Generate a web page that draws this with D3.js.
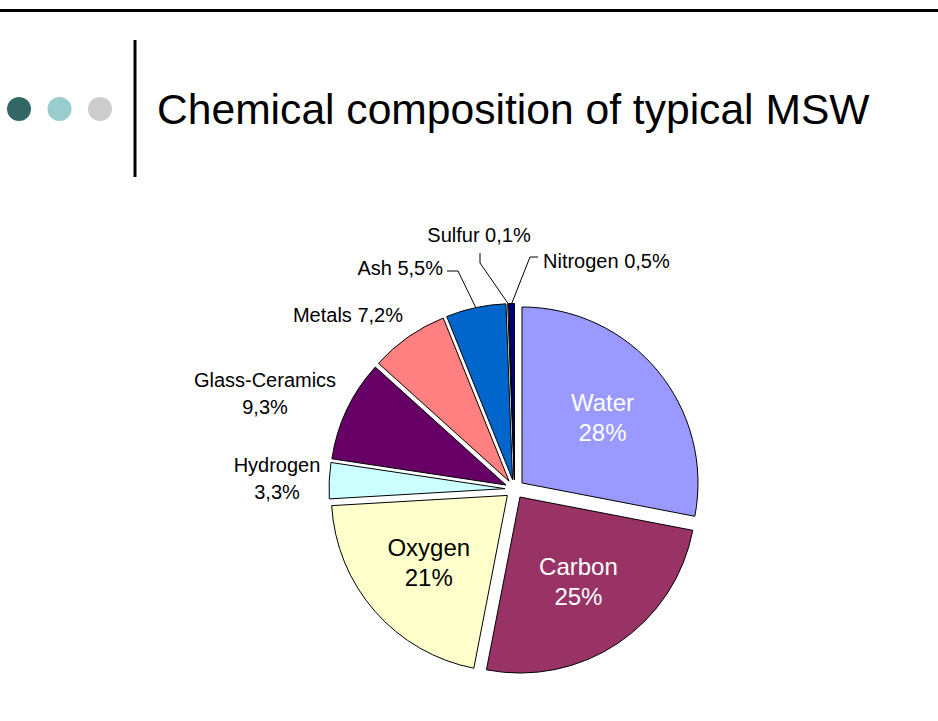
<!DOCTYPE html>
<html>
<head>
<meta charset="utf-8">
<script src="https://cdn.jsdelivr.net/npm/d3@7"></script>
<style>
  body { margin: 0; background: #fff; }
  svg { display: block; font-family: Arial, "Liberation Sans", sans-serif; }
</style>
</head>
<body>
<svg id="chart" width="938" height="721"></svg>
<script>
// chart data
const names = ["Water", "Carbon", "Oxygen", "Hydrogen", "Glass-Ceramics", "Metals", "Ash", "Sulfur", "Nitrogen"];
const values = [28, 25, 21, 3.3, 9.3, 7.2, 5.5, 0.1, 0.5];
const colors = ["#9999FF", "#993366", "#FFFFCC", "#CCFFFF", "#660066", "#FF8080", "#0066CC", "#CCCCFF", "#000080"];
const bullets = ["#336666", "#99CCCC", "#CCCCCC"];
const title = "Chemical composition of typical MSW";

// label layout (inside labels follow the slice centroid)
const insideColor = { "Water": "#fff", "Carbon": "#fff", "Oxygen": "#000" };
const outsideLabels = {
  "Hydrogen":       { x: 277, y: 472, anchor: "middle", wrap: true },
  "Glass-Ceramics": { x: 265, y: 387, anchor: "middle", wrap: true },
  "Metals":         { x: 403, y: 322, anchor: "end" },
  "Ash":            { x: 443, y: 275, anchor: "end", leader: [[447, 271], [458, 271]] },
  "Sulfur":         { x: 479, y: 242, anchor: "middle", leader: [[480, 253], [480, 263]] },
  "Nitrogen":       { x: 543, y: 268, anchor: "start", leader: [[538, 257], [530, 257]] }
};

const svg = d3.select("#chart");
const fmt = v => String(v).replace(".", ",") + "%";

// slide decoration
svg.append("line")
  .attr("x1", 0).attr("x2", 938).attr("y1", 10.5).attr("y2", 10.5)
  .attr("stroke", "#000").attr("stroke-width", 3);
svg.append("line")
  .attr("x1", 135).attr("x2", 135).attr("y1", 40).attr("y2", 177)
  .attr("stroke", "#000").attr("stroke-width", 3);
svg.selectAll("circle.bullet")
  .data(bullets)
  .enter()
  .append("circle")
  .attr("class", "bullet")
  .attr("cx", (d, i) => 19 + i * 40.5)
  .attr("cy", 109)
  .attr("r", 12)
  .attr("fill", d => d);
svg.append("text")
  .attr("x", 157).attr("y", 124)
  .attr("font-size", 42.6)
  .attr("fill", "#000")
  .text(title);

// pie
const cx = 514.6, cy = 489.1, radius = 176, explode = 9.6;
const data = names.map((n, i) => ({ name: n, value: values[i], color: colors[i] }));
const pie = d3.pie().sort(null).value(d => d.value);
const arcs = pie(data);
const arc = d3.arc().innerRadius(0).outerRadius(radius);

const mid = d => (d.startAngle + d.endAngle) / 2;
const dir = a => [Math.sin(a), -Math.cos(a)];

const g = svg.append("g").attr("transform", `translate(${cx},${cy})`);

g.selectAll("path")
  .data(arcs)
  .enter()
  .append("path")
  .attr("transform", d => {
    const [dx, dy] = dir(mid(d));
    return `translate(${dx * explode},${dy * explode})`;
  })
  .attr("d", arc)
  .attr("fill", d => d.data.color)
  .attr("stroke", "#000")
  .attr("stroke-width", 1)
  .attr("stroke-linejoin", "round");

// inside labels
arcs.filter(d => insideColor[d.data.name]).forEach(d => {
  const [dx, dy] = dir(mid(d));
  const px = dx * 114, py = dy * 112;
  const t = g.append("text")
    .attr("text-anchor", "middle")
    .attr("font-size", 24)
    .attr("fill", insideColor[d.data.name]);
  t.append("tspan").attr("x", px).attr("y", py - 7).text(d.data.name);
  t.append("tspan").attr("x", px).attr("y", py + 23).text(fmt(d.data.value));
});

// outside labels and leader lines
arcs.filter(d => outsideLabels[d.data.name]).forEach(d => {
  const L = outsideLabels[d.data.name];
  const t = svg.append("text")
    .attr("text-anchor", L.anchor)
    .attr("font-size", 20)
    .attr("fill", "#000");
  if (L.wrap) {
    t.append("tspan").attr("x", L.x).attr("y", L.y).text(d.data.name);
    t.append("tspan").attr("x", L.x).attr("y", L.y + 27).text(fmt(d.data.value));
  } else {
    t.attr("x", L.x).attr("y", L.y).text(d.data.name + " " + fmt(d.data.value));
  }
  if (L.leader) {
    const [dx, dy] = dir(mid(d));
    const end = [cx + dx * (radius + explode), cy + dy * (radius + explode)];
    svg.append("path")
      .attr("d", d3.line()([...L.leader, end]))
      .attr("fill", "none")
      .attr("stroke", "#000")
      .attr("stroke-width", 1);
  }
});
</script>
</body>
</html>
